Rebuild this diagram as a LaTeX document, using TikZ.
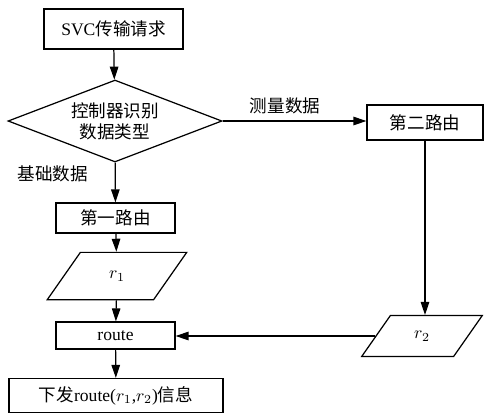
\documentclass[tikz,border=0pt]{standalone}
\usepackage{fontspec}
\setmainfont{Liberation Serif}
\newfontfamily\cjk{Noto Sans CJK SC}
\usetikzlibrary{positioning}
\usetikzlibrary{shapes.geometric}
\usetikzlibrary{arrows.meta}

\begin{document}
\begin{tikzpicture}[x=0.02cm, y=-0.02cm, font=\fontsize{10}{12}\selectfont,
boxnode/.style={rectangle, draw=black, line width=0.7pt, fill=white, inner sep=0pt},
decnode/.style={diamond, aspect=2.6, draw=black, line width=0.7pt, fill=white, minimum width=4.28cm, minimum height=1.64cm, inner sep=0pt, align=center},
datanode/.style={trapezium, trapezium left angle=55, trapezium right angle=125, draw=black, line width=0.7pt, fill=white, minimum height=0.56cm, inner sep=0pt},
arr/.style={-{Triangle[length=2.6mm,width=1.7mm]}, line width=0.7pt}]
\useasboundingbox (0,0) rectangle (484,414);

\node[boxnode, minimum width=2.78cm, minimum height=0.8cm] (req) at (113.5,29) {SVC{\cjk 传输请求}};
\node[decnode] (type) at (115,121) {{\cjk 控制器识别}\\{\cjk 数据类型}};
\node[boxnode, minimum width=2.32cm, minimum height=0.7cm] (route2) at (425,122.5) {\cjk 第二路由};
\node[boxnode, minimum width=2.38cm, minimum height=0.6cm] (route1) at (115.5,218) {\cjk 第一路由};
\node[datanode, minimum width=2.8cm] (r1) at (117,276) {$r_1$};
\node[boxnode, minimum width=2.38cm, minimum height=0.54cm] (route) at (115.5,335.5) {route};
\node[datanode, minimum width=2.42cm] (r2) at (422,336) {$r_2$};
\node[boxnode, minimum width=4.28cm, minimum height=0.68cm] (send) at (116,395.5) {{\cjk 下发}route($r_1$,$r_2$){\cjk 信息}};

\node (lblmeas) at (285,106) {\cjk 测量数据};
\node (lblbase) at (53,174) {\cjk 基础数据};

\draw[arr] (req) -- (type);
\draw[arr] (type.east) -- (type.east -| route2.west);
\draw[arr] (type) -- (route1);
\draw[arr] (route1) -- (r1);
\draw[arr] (r1) -- (route);
\draw[arr] (route) -- (send);
\draw[arr] (route2.south) -- (route2.south |- r2.north);
\draw[arr] (r2.west) -- (r2.west -| route.east);
\end{tikzpicture}
\end{document}
